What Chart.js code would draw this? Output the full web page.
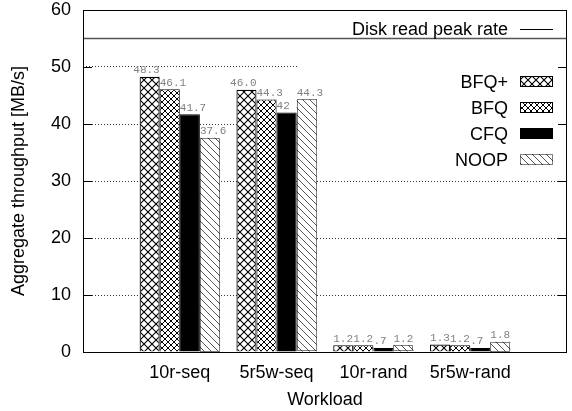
<!DOCTYPE html>
<html>
<head>
<meta charset="utf-8">
<script src="https://cdn.jsdelivr.net/npm/chart.js@4.4.0/dist/chart.umd.min.js"></script>
<style>
  html, body { margin: 0; padding: 0; background: #fff; }
</style>
</head>
<body>
<canvas id="chart" width="572" height="411"></canvas>
<script>
// data
const workloads = ['10r-seq', '5r5w-seq', '10r-rand', '5r5w-rand'];
const bfqPlus = [48.3, 46.0, 1.2, 1.3];
const bfq = [46.1, 44.3, 1.2, 1.2];
const cfq = [41.7, 42, 0.7, 0.7];
const noop = [37.6, 44.3, 1.2, 1.8];
const bfqPlusText = ['48.3', '46.0', '1.2', '1.3'];
const bfqText = ['46.1', '44.3', '1.2', '1.2'];
const cfqText = ['41.7', '42', '.7', '.7'];
const noopText = ['37.6', '44.3', '1.2', '1.8'];
const peakRate = 55;
const yMin = 0, yMax = 60, yStep = 10;

// empty slots at both ends, like an xrange of [0:5]
const axisLabels = ['', ...workloads, ''];
const pad = arr => [null, ...arr, null];

const canvas = document.getElementById('chart');
const ctx = canvas.getContext('2d');

function makePattern(size, draw) {
    const c = document.createElement('canvas');
    c.width = size;
    c.height = size;
    const g = c.getContext('2d');
    g.fillStyle = '#fff';
    g.fillRect(0, 0, size, size);
    draw(g, size);
    return ctx.createPattern(c, 'repeat');
}

const crossHatch = makePattern(8, (g, s) => {
    g.strokeStyle = '#000';
    g.lineWidth = 1.1;
    g.beginPath();
    g.moveTo(-1, -1); g.lineTo(s + 1, s + 1);
    g.moveTo(s + 1, -1); g.lineTo(-1, s + 1);
    g.stroke();
});

const ringHatch = makePattern(6, (g, s) => {
    g.strokeStyle = '#000';
    g.lineWidth = 1;
    g.beginPath();
    g.moveTo(0, 0); g.lineTo(s, s);
    g.moveTo(s, 0); g.lineTo(0, s);
    g.stroke();
    g.fillStyle = '#000';
    g.beginPath();
    g.arc(s / 2, s / 2, 1, 0, Math.PI * 2);
    g.fill();
});

const diagHatch = makePattern(7, (g, s) => {
    g.strokeStyle = '#555';
    g.lineWidth = 1;
    g.beginPath();
    g.moveTo(-1, -1); g.lineTo(s + 1, s + 1);
    g.stroke();
});

// value labels on top of the bars + dotted outline for NOOP
const valueLabels = {
    id: 'valueLabels',
    afterDatasetsDraw(chart) {
        const c = chart.ctx;
        c.save();
        chart.data.datasets.forEach((ds, i) => {
            if (!ds.valueText) return;
            const meta = chart.getDatasetMeta(i);
            meta.data.forEach((bar, j) => {
                if (ds.data[j] == null) return;
                const left = bar.x - bar.width / 2;
                const right = bar.x + bar.width / 2;
                if (ds.dottedEdge) {
                    c.strokeStyle = '#000';
                    c.lineWidth = 1;
                    c.setLineDash([1, 1]);
                    c.strokeRect(Math.round(left) + 0.5, Math.round(bar.y) + 0.5,
                        Math.round(bar.width) - 1, Math.round(bar.base - bar.y) - 1);
                    c.setLineDash([]);
                }
                const text = ds.valueText[j];
                c.font = '11px "Liberation Mono", "DejaVu Sans Mono", monospace';
                c.fillStyle = '#808080';
                c.textBaseline = 'bottom';
                // long labels of the first bar lean left so they do not run into the next one
                if (ds.leanLeft && text.length > 3) {
                    c.textAlign = 'right';
                    c.fillText(text, right, bar.y - 1);
                } else {
                    c.textAlign = 'left';
                    c.fillText(text, left, bar.y - 1);
                }
            });
        });
        c.restore();
    }
};

// white key box hides the grid behind it
const keyBox = {
    id: 'keyBox',
    beforeDatasetsDraw(chart) {
        const a = chart.chartArea;
        const c = chart.ctx;
        c.save();
        c.fillStyle = '#fff';
        c.fillRect(a.right - 269, a.top + 48, 268, 114);
        c.restore();
    }
};

// frame, inward ticks and the key
const frame = {
    id: 'frame',
    afterDraw(chart) {
        const a = chart.chartArea;
        const c = chart.ctx;
        const y = chart.scales.y;
        c.save();
        c.strokeStyle = '#000';
        c.lineWidth = 1;
        c.strokeRect(Math.round(a.left) + 0.5, Math.round(a.top) + 0.5,
            Math.round(a.right - a.left) - 1, Math.round(a.bottom - a.top));

        y.ticks.forEach(t => {
            const py = Math.round(y.getPixelForValue(t.value)) + 0.5;
            c.beginPath();
            c.moveTo(a.left, py); c.lineTo(a.left + 9, py);
            c.moveTo(a.right - 9, py); c.lineTo(a.right, py);
            c.stroke();
        });

        c.font = '18px "Liberation Sans", Arial, sans-serif';
        c.fillStyle = '#000';
        c.textAlign = 'right';
        c.textBaseline = 'middle';
        const textX = a.right - 59;
        const boxX = a.right - 47;

        // peak rate entry
        c.fillText('Disk read peak rate', textX, a.top + 20);
        c.beginPath();
        c.moveTo(boxX, Math.round(a.top + 19) + 0.5);
        c.lineTo(boxX + 33, Math.round(a.top + 19) + 0.5);
        c.stroke();

        const bars = chart.data.datasets.filter(ds => ds.type !== 'line');
        bars.forEach((ds, i) => {
            const ry = a.top + 72 + i * 26;
            c.fillStyle = '#000';
            c.fillText(ds.label, textX, ry + 1);
            c.fillStyle = ds.backgroundColor;
            c.fillRect(boxX, Math.round(ry - 6), 33, 11);
            c.strokeStyle = '#000';
            if (ds.dottedEdge) c.setLineDash([1, 1]);
            c.strokeRect(boxX + 0.5, Math.round(ry - 6) + 0.5, 32, 10);
            c.setLineDash([]);
        });
        c.restore();
    }
};

Chart.defaults.font.family = '"Liberation Sans", Arial, sans-serif';
Chart.defaults.font.size = 18;
Chart.defaults.color = '#000';

new Chart(ctx, {
    type: 'bar',
    data: {
        labels: axisLabels,
        datasets: [
            {
                type: 'line',
                label: 'Disk read peak rate',
                data: axisLabels.map(() => peakRate),
                borderColor: '#555',
                borderWidth: 1.5,
                pointRadius: 0,
                fill: false
            },
            {
                label: 'BFQ+',
                data: pad(bfqPlus),
                valueText: pad(bfqPlusText),
                leanLeft: true,
                backgroundColor: crossHatch,
                borderColor: '#000',
                borderWidth: 1.2
            },
            {
                label: 'BFQ',
                data: pad(bfq),
                valueText: pad(bfqText),
                backgroundColor: ringHatch,
                borderColor: '#000',
                borderWidth: 1
            },
            {
                label: 'CFQ',
                data: pad(cfq),
                valueText: pad(cfqText),
                backgroundColor: '#000',
                borderColor: '#000',
                borderWidth: 1
            },
            {
                label: 'NOOP',
                data: pad(noop),
                valueText: pad(noopText),
                backgroundColor: diagHatch,
                borderWidth: 0,
                dottedEdge: true
            }
        ]
    },
    options: {
        responsive: false,
        animation: false,
        devicePixelRatio: 1,
        categoryPercentage: 0.83,
        barPercentage: 1,
        layout: { padding: { top: 10, right: 5, left: 0, bottom: 0 } },
        plugins: {
            legend: { display: false },
            tooltip: { enabled: false }
        },
        scales: {
            x: {
                offset: false,
                grid: { display: false },
                border: { display: false },
                ticks: { padding: 2, autoSkip: false, maxRotation: 0 },
                title: { display: true, text: 'Workload', padding: { top: 0, bottom: 0 } },
                afterFit(scale) {
                    scale.height = 59;
                    scale.paddingLeft = 0;
                    scale.paddingRight = 0;
                }
            },
            y: {
                min: yMin,
                max: yMax,
                ticks: { stepSize: yStep, padding: 12 },
                grid: { color: '#333', lineWidth: 1, drawTicks: false },
                border: { display: false, dash: [1, 2] },
                title: { display: true, text: 'Aggregate throughput [MB/s]', padding: { top: 8, bottom: 0 } },
                afterFit(scale) {
                    scale.width = 83;
                    scale.paddingTop = 0;
                    scale.paddingBottom = 0;
                }
            }
        }
    },
    plugins: [keyBox, valueLabels, frame]
});
</script>
</body>
</html>
